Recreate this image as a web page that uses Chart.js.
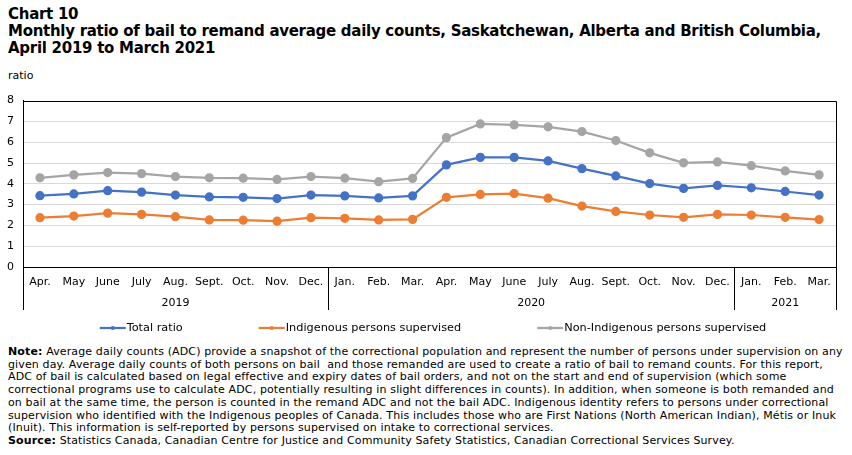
<!DOCTYPE html>
<html>
<head>
<meta charset="utf-8">
<script src="https://cdn.jsdelivr.net/npm/chart.js@4"></script>
<style>
  html, body { margin: 0; padding: 0; background: #fff; }
  body { width: 852px; height: 455px; position: relative; overflow: hidden; font-family: "DejaVu Sans", Verdana, sans-serif; color: #000; }
  #title { position: absolute; left: 8px; top: 6px; font-size: 15px; font-weight: bold; line-height: 17px; white-space: nowrap; letter-spacing: -0.28px; }
  #unit { position: absolute; left: 8px; top: 69px; font-size: 11px; line-height: 13px; }
  #wrap { position: absolute; left: 0; top: 85px; width: 852px; height: 260px; }
  #note { position: absolute; left: 8px; top: 346px; font-size: 11px; line-height: 12.7px; white-space: nowrap; letter-spacing: 0.13px; }
</style>
</head>
<body>
<div id="title">Chart 10<br>Monthly ratio of bail to remand average daily counts, Saskatchewan, Alberta and British Columbia,<br>April 2019 to March 2021</div>
<div id="unit">ratio</div>
<div id="wrap"><canvas id="c" width="852" height="260"></canvas></div>
<div id="note"><b>Note:</b> Average daily counts (ADC) provide a snapshot of the correctional population and represent the number of persons under supervision on any<br>given day. Average daily counts of both persons on bail&nbsp; and those remanded are used to create a ratio of bail to remand counts. For this report,<br>ADC of bail is calculated based on legal effective and expiry dates of bail orders, and not on the start and end of supervision (which some<br>correctional programs use to calculate ADC, potentially resulting in slight differences in counts). In addition, when someone is both remanded and<br>on bail at the same time, the person is counted in the remand ADC and not the bail ADC. Indigenous identity refers to persons under correctional<br>supervision who identified with the Indigenous peoples of Canada. This includes those who are First Nations (North American Indian), Métis or Inuk<br>(Inuit). This information is self-reported by persons supervised on intake to correctional services.<br><b>Source:</b> Statistics Canada, Canadian Centre for Justice and Community Safety Statistics, Canadian Correctional Services Survey.</div>
<script>
const months = ["Apr.","May","June","July","Aug.","Sept.","Oct.","Nov.","Dec.","Jan.","Feb.","Mar.","Apr.","May","June","July","Aug.","Sept.","Oct.","Nov.","Dec.","Jan.","Feb.","Mar."];
const years = ["2019","2020","2021"];
const monthsPerYear = [9, 12, 3];
const totalRatio = [3.43,3.51,3.67,3.60,3.46,3.37,3.35,3.29,3.46,3.42,3.32,3.42,4.91,5.27,5.27,5.10,4.73,4.38,4.01,3.78,3.92,3.81,3.63,3.46];
const indigenous = [2.37,2.45,2.59,2.53,2.42,2.26,2.25,2.20,2.37,2.34,2.26,2.29,3.35,3.49,3.53,3.31,2.93,2.67,2.50,2.39,2.53,2.50,2.39,2.28];
const nonIndigenous = [4.29,4.43,4.54,4.49,4.35,4.29,4.27,4.21,4.35,4.27,4.10,4.26,6.22,6.88,6.83,6.74,6.51,6.08,5.49,5.01,5.05,4.87,4.62,4.43];
const seriesNames = ["Total ratio","Indigenous persons supervised","Non-Indigenous persons supervised"];
const yTicks = [0,1,2,3,4,5,6,7,8];

const FONT = "DejaVu Sans";
const colors = ["#4472C4","#ED7D31","#A5A5A5"];

function ds(label, data, color) {
  return { label, data, borderColor: color, backgroundColor: color, borderWidth: 2.25,
    pointRadius: 3.5, pointHoverRadius: 3.5, pointBackgroundColor: color, pointBorderColor: color,
    tension: 0, fill: false };
}

const framePlugin = {
  id: 'frame',
  afterDraw(chart) {
    const ctx = chart.ctx, ca = chart.chartArea, xs = chart.scales.x;
    ctx.save();
    ctx.strokeStyle = '#000';
    ctx.lineWidth = 1;
    ctx.beginPath();
    ctx.moveTo(Math.round(ca.left) + 0.5, Math.round(ca.top) + 0.5);
    ctx.lineTo(Math.round(ca.right) + 0.5, Math.round(ca.top) + 0.5);
    ctx.lineTo(Math.round(ca.right) + 0.5, Math.round(ca.bottom) + 0.5);
    ctx.stroke();
    const sepBottom = ca.bottom + 43;
    const step = xs.getPixelForValue(1) - xs.getPixelForValue(0);
    const bounds = [ca.left];
    let idx = 0;
    const centers = [];
    monthsPerYear.forEach((n, i) => {
      const first = xs.getPixelForValue(idx);
      const last = xs.getPixelForValue(idx + n - 1);
      centers.push((first + last) / 2);
      idx += n;
      bounds.push(i === monthsPerYear.length - 1 ? ca.right : last + step / 2);
    });
    ctx.beginPath();
    bounds.forEach(b => {
      const x = Math.round(b) + 0.5;
      ctx.moveTo(x, ca.bottom);
      ctx.lineTo(x, sepBottom);
    });
    ctx.stroke();
    ctx.fillStyle = '#000';
    ctx.font = '11px "' + FONT + '"';
    ctx.textAlign = 'center';
    ctx.textBaseline = 'middle';
    years.forEach((y, i) => ctx.fillText(y, centers[i], ca.bottom + 36));
    // legend
    ctx.font = '11.3px "' + FONT + '"';
    const ly = ca.bottom + 61;
    const gap = 76, lineW = 26;
    const widths = chart.data.datasets.map(d => lineW + 1 + ctx.measureText(d.label).width);
    const total = widths.reduce((a, b) => a + b, 0) + gap * (widths.length - 1);
    let x = (ca.left + ca.right) / 2 - total / 2 + 3.5;
    ctx.textAlign = 'left';
    chart.data.datasets.forEach((d, i) => {
      ctx.strokeStyle = d.borderColor;
      ctx.lineWidth = 2.25;
      ctx.beginPath();
      ctx.moveTo(x, ly); ctx.lineTo(x + lineW, ly);
      ctx.stroke();
      ctx.fillStyle = d.borderColor;
      ctx.beginPath();
      ctx.arc(x + lineW / 2, ly, 2, 0, Math.PI * 2);
      ctx.fill();
      ctx.fillStyle = '#000';
      ctx.fillText(d.label, x + lineW + 1, ly);
      x += widths[i] + gap;
    });
    ctx.restore();
  }
};

new Chart(document.getElementById('c'), {
  type: 'line',
  data: {
    labels: months,
    datasets: [ds(seriesNames[0], totalRatio, colors[0]), ds(seriesNames[1], indigenous, colors[1]), ds(seriesNames[2], nonIndigenous, colors[2])]
  },
  options: {
    responsive: false,
    animation: false,
    layout: { padding: { left: 0, right: 16, top: 11, bottom: 0 } },
    plugins: { legend: { display: false }, tooltip: { enabled: false } },
    scales: {
      x: {
        offset: true,
        grid: { display: false, drawTicks: false },
        border: { display: true, color: '#000', width: 1 },
        ticks: { color: '#000', font: { family: FONT, size: 11 }, padding: 9, maxRotation: 0, autoSkip: false },
        afterFit(s) { s.height = 78; }
      },
      y: {
        min: 0, max: 8,
        afterBuildTicks(s) { s.ticks = yTicks.map(v => ({ value: v })); },
        grid: { color: ctx => (ctx.tick && (ctx.tick.value === 0 || ctx.tick.value === 8)) ? 'rgba(0,0,0,0)' : '#D9D9D9', drawTicks: false, lineWidth: 1 },
        border: { display: true, color: '#000', width: 1 },
        ticks: { color: '#000', font: { family: FONT, size: 11 }, padding: 9 },
        afterFit(s) { s.width = 23; }
      }
    }
  },
  plugins: [framePlugin]
});
</script>
</body>
</html>
